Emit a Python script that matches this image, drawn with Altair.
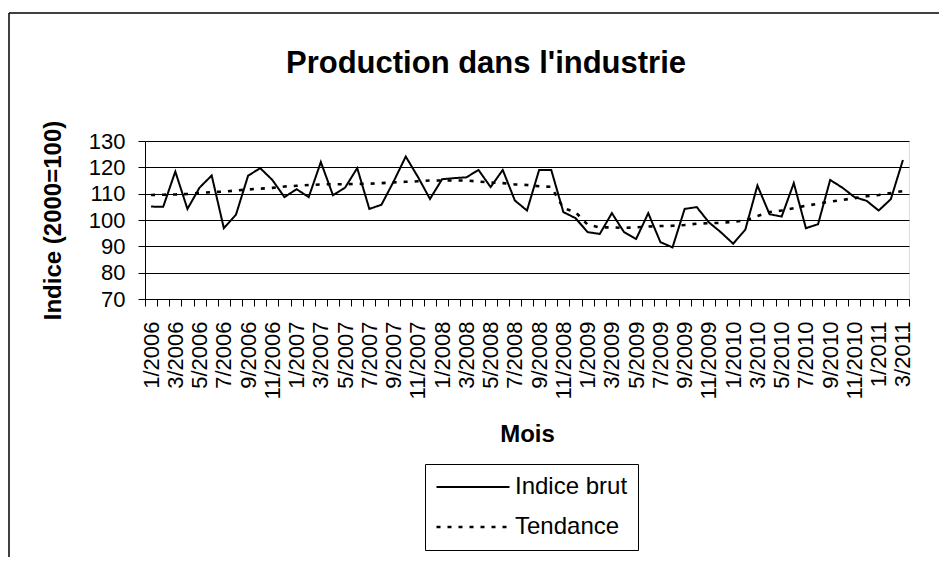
import altair as alt
import pandas as pd

# ---- data ----
months = [f"{m}/{y}" for y in range(2006, 2012) for m in range(1, 13)][:63]
indice = [105.1, 105.0, 118.4, 104.2, 112.3, 116.9, 96.9, 102.0, 116.8, 119.7,
          115.2, 108.7, 111.7, 108.7, 122.0, 109.4, 112.3, 119.7, 104.2, 105.8,
          114.6, 124.1, 116.4, 108.0, 115.5, 115.9, 116.2, 119.0, 112.5, 119.0,
          107.4, 103.6, 119.0, 119.0, 103.0, 100.7, 95.4, 94.7, 102.6, 95.4,
          92.8, 102.6, 91.6, 89.6, 104.2, 104.9, 99.1, 95.3, 91.0, 96.3,
          113.1, 102.2, 101.3, 114.0, 96.9, 98.4, 115.2, 112.3, 108.7, 107.3,
          103.6, 107.9, 122.8]
tendance = [109.5, 109.6, 109.7, 109.9, 110.3, 110.6, 110.8, 111.2, 111.6, 111.9,
            112.2, 112.7, 113.0, 113.3, 113.5, 113.6, 113.6, 113.7, 113.8, 114.0,
            114.3, 114.5, 114.7, 115.0, 115.0, 115.0, 115.0, 114.6, 114.2, 114.0,
            113.5, 113.3, 112.8, 112.6, 104.5, 103.0, 98.2, 97.2, 97.2, 97.0,
            97.2, 97.5, 97.7, 97.8, 98.1, 98.6, 98.8, 98.9, 99.3, 99.8,
            101.5, 103.0, 103.6, 104.5, 105.4, 106.2, 107.0, 107.6, 108.3, 109.0,
            109.5, 110.2, 111.0]
series = ["Indice brut", "Tendance"]
y_ticks = [70, 80, 90, 100, 110, 120, 130]

rows = []
for i, (m, a, b) in enumerate(zip(months, indice, tendance)):
    rows.append({"idx": i, "mois": m, "serie": series[0], "valeur": a})
    rows.append({"idx": i, "mois": m, "serie": series[1], "valeur": b})
df = pd.DataFrame(rows)

FONT = "Liberation Sans"
n = len(months)
label_expr = "[" + ",".join(f"'{m}'" for m in months) + "][round(datum.value)]"
xscale = alt.Scale(domain=[-0.5, n - 0.5], nice=False, zero=False)
yscale = alt.Scale(domain=[70, 130], nice=False, zero=False)

lines = alt.Chart(df).mark_line(color="black").encode(
    x=alt.X("idx:Q", scale=xscale,
            axis=alt.Axis(orient="bottom", values=list(range(0, n, 2)),
                          labelExpr=label_expr, labelAngle=270, labelAlign="right",
                          labelBaseline="middle", labelFontSize=22, labelPadding=22,
                          labelFont=FONT, labelColor="black",
                          ticks=False, tickSize=0, domain=False, grid=False,
                          labelOverlap=False, labelFlush=False,
                          title="Mois", titleFontSize=24, titleFont=FONT,
                          titleFontWeight="bold", titleColor="black", titlePadding=24)),
    y=alt.Y("valeur:Q", scale=yscale,
            axis=alt.Axis(values=y_ticks, labelFontSize=22, labelFont=FONT,
                          labelColor="black", labelPadding=13, tickSize=7,
                          tickColor="black", domainColor="black", gridColor="black",
                          gridWidth=1, grid=True,
                          title="Indice (2000=100)", titleFontSize=24, titleFont=FONT,
                          titleFontWeight="bold", titleColor="black", titlePadding=23)),
    strokeDash=alt.StrokeDash(
        "serie:N",
        scale=alt.Scale(domain=series, range=[[1, 0], [4, 7]]),
        legend=alt.Legend(title=None, orient="none", legendX=280, legendY=323,
                          symbolType="stroke", symbolSize=5329, symbolStrokeWidth=2.5,
                          symbolStrokeColor="black", labelFontSize=24, labelFont=FONT,
                          labelColor="black", strokeColor="black", fillColor="white",
                          padding=10, rowPadding=14, labelOffset=4, clipHeight=26)),
    strokeWidth=alt.StrokeWidth("serie:N",
                                scale=alt.Scale(domain=series, range=[2, 2.6]),
                                legend=None),
)

ticks_layer = alt.Chart(df).mark_point(opacity=0).encode(
    x=alt.X("idx:Q", scale=xscale,
            axis=alt.Axis(orient="bottom", values=[i - 0.5 for i in range(n + 1)],
                          labels=False, ticks=True, tickSize=7, tickColor="black",
                          domain=True, domainColor="black", grid=False, title=None)),
)

frame_df = pd.DataFrame({"k": [0]})
left_border = alt.Chart(frame_df).mark_rule(color="black", strokeWidth=1.5).encode(
    x=alt.value(-136), x2=alt.value(-136), y=alt.value(-128), y2=alt.value(418))
top_border = alt.Chart(frame_df).mark_rule(color="black", strokeWidth=1.5).encode(
    x=alt.value(-136), x2=alt.value(806), y=alt.value(-128), y2=alt.value(-128))

chart = alt.layer(ticks_layer, lines, left_border, top_border).resolve_axis(
    x="independent"
).properties(
    width=764, height=158,
    autosize=alt.AutoSizeParams(type="none"),
    padding={"left": 137, "top": 133, "right": 30, "bottom": 258},
    title=alt.TitleParams("Production dans l'industrie", fontSize=31, font=FONT,
                          fontWeight="bold", color="black", dx=-41, offset=-68,
                          anchor="middle"),
).configure_view(
    fill="#C0C0C0", stroke="#808080", strokeWidth=1.5
).configure(background="white")

chart.save("out.html", embed_options={"renderer": "svg", "actions": False})
